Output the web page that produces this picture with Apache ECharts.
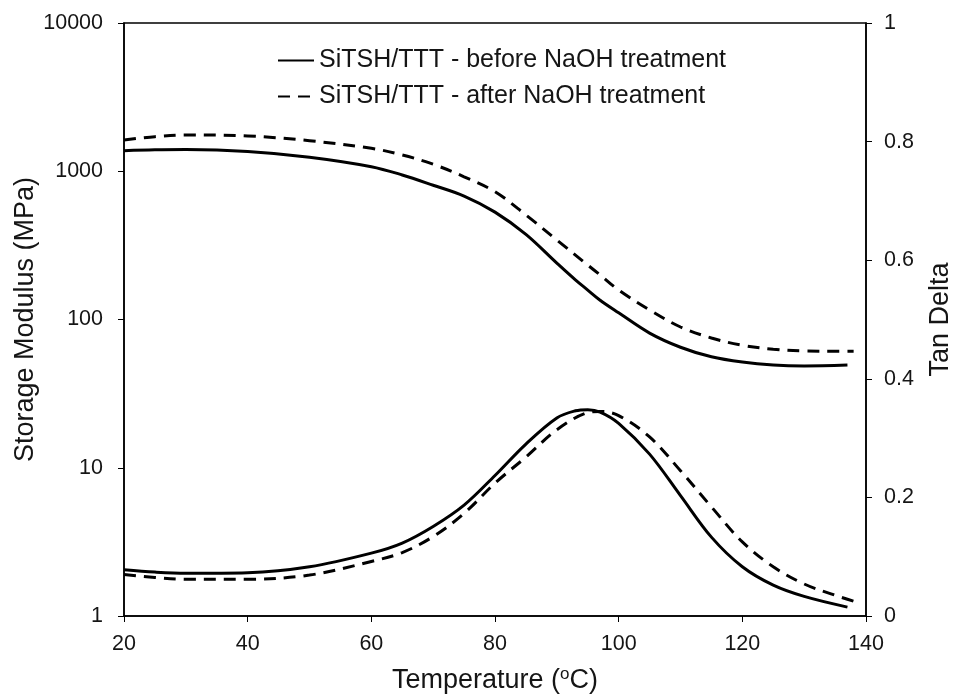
<!DOCTYPE html>
<html>
<head>
<meta charset="utf-8">
<script src="https://cdn.jsdelivr.net/npm/echarts@6/dist/echarts.min.js"></script>
<style>
  html, body { margin: 0; padding: 0; background: #fff; }
  #chart { width: 954px; height: 696px; }
</style>
</head>
<body>
<div id="chart"></div>
<script>
// Temperature (°C) sample points
const tempsBefore = [20, 25, 30, 40, 50, 60, 65, 70, 75, 80, 85, 90, 93, 95, 97, 100, 105, 110, 115, 120, 125, 130, 137];
const tempsAfter  = [20, 25, 30, 40, 50, 60, 65, 70, 75, 80, 85, 90, 95, 97, 100, 105, 110, 115, 120, 125, 130, 135, 138];

// Storage modulus (MPa)
const storageBefore = [1376, 1395, 1400, 1360, 1245, 1074, 944, 805, 680, 530, 375, 240, 185, 158, 135, 111, 81, 65, 56, 51.6, 49.3, 48.6, 49.3];
const storageAfter  = [1625, 1711, 1757, 1730, 1607, 1428, 1288, 1115, 918, 728, 507, 344, 233, 200, 158, 116, 89, 75, 67, 63, 61.3, 61, 61];

// Tan delta
const tanBefore = [0.078, 0.074, 0.072, 0.073, 0.083, 0.106, 0.123, 0.151, 0.187, 0.237, 0.29, 0.334, 0.346, 0.348, 0.344, 0.325, 0.273, 0.203, 0.133, 0.083, 0.052, 0.033, 0.015];
const tanAfter  = [0.070, 0.065, 0.062, 0.062, 0.069, 0.092, 0.107, 0.134, 0.173, 0.224, 0.268, 0.314, 0.343, 0.345, 0.338, 0.302, 0.245, 0.184, 0.125, 0.083, 0.054, 0.035, 0.025];

const xTicks = [20, 40, 60, 80, 100, 120, 140];
const nameBefore = 'SiTSH/TTT - before NaOH treatment';
const nameAfter = 'SiTSH/TTT - after NaOH treatment';

const zip = (xs, ys) => xs.map((x, i) => [x, ys[i]]);

const FONT = '"Liberation Sans", Arial, sans-serif';
const TXT = '#151515';
const solid = { color: '#000', width: 3, type: 'solid' };
const dashed = { color: '#000', width: 3, type: [12, 8] };

const chart = echarts.init(document.getElementById('chart'));
chart.setOption({
  animation: false,
  backgroundColor: '#fff',
  textStyle: { fontFamily: FONT },
  grid: { left: 124, right: 88, top: 23, bottom: 80, outerBoundsMode: 'none', containLabel: false, show: true, borderColor: '#000', borderWidth: 1.5, backgroundColor: 'transparent' },
  legend: {
    orient: 'vertical',
    left: 277, top: 48, padding: 0,
    itemWidth: 36, itemHeight: 22, itemGap: 11,
    data: [nameBefore, nameAfter],
    itemStyle: { color: 'transparent', borderWidth: 0, opacity: 0 },
    textStyle: { fontFamily: FONT, fontSize: 25, lineHeight: 22, color: TXT }
  },
  xAxis: {
    type: 'value', min: xTicks[0], max: xTicks[xTicks.length - 1], interval: 20,
    name: '{a|Temperature (}{s|o}{a|C)}', nameLocation: 'middle', nameGap: 50, nameMoveOverlap: false,
    nameTextStyle: {
      rich: {
        a: { fontFamily: FONT, fontSize: 27, color: TXT },
        s: { fontFamily: FONT, fontSize: 17, color: TXT, verticalAlign: 'top', padding: [0, 0, 12, 0] }
      }
    },
    axisLine: { lineStyle: { color: '#000', width: 1.5 } },
    axisTick: { length: 6, lineStyle: { color: '#000', width: 1 } },
    axisLabel: { fontFamily: FONT, fontSize: 21.5, color: TXT, margin: 17 },
    splitLine: { show: false }
  },
  yAxis: [
    {
      type: 'log', logBase: 10, min: 1, max: 10000,
      name: 'Storage Modulus (MPa)', nameLocation: 'middle', nameGap: 85, nameMoveOverlap: false,
      nameTextStyle: { fontFamily: FONT, fontSize: 27, color: TXT },
      axisLine: { show: true, lineStyle: { color: '#000', width: 1.5 } },
      axisTick: { show: true, length: 6, lineStyle: { color: '#000', width: 1 } },
      minorTick: { show: false },
      axisLabel: { fontFamily: FONT, fontSize: 21.5, color: TXT, margin: 21, formatter: v => String(Math.round(v)) },
      splitLine: { show: false }
    },
    {
      type: 'value', min: 0, max: 1, interval: 0.2, position: 'right',
      name: 'Tan Delta', nameLocation: 'middle', nameGap: 61, nameRotate: 90, nameMoveOverlap: false,
      nameTextStyle: { fontFamily: FONT, fontSize: 27, color: TXT },
      axisLine: { show: true, lineStyle: { color: '#000', width: 1.5 } },
      axisTick: { show: true, length: 6, lineStyle: { color: '#000', width: 1 } },
      axisLabel: { fontFamily: FONT, fontSize: 21.5, color: TXT, margin: 18, formatter: v => String(+v.toFixed(1)) },
      splitLine: { show: false }
    }
  ],
  series: [
    { name: nameBefore, type: 'line', yAxisIndex: 0, data: zip(tempsBefore, storageBefore), smooth: 0.35, showSymbol: false, symbol: 'none', lineStyle: solid, itemStyle: { color: '#000' } },
    { name: nameAfter, type: 'line', yAxisIndex: 0, data: zip(tempsAfter, storageAfter), smooth: 0.35, showSymbol: false, symbol: 'none', lineStyle: dashed, itemStyle: { color: '#000' } },
    { name: nameBefore, type: 'line', yAxisIndex: 1, data: zip(tempsBefore, tanBefore), smooth: 0.35, showSymbol: false, symbol: 'none', lineStyle: solid, itemStyle: { color: '#000' } },
    { name: nameAfter, type: 'line', yAxisIndex: 1, data: zip(tempsAfter, tanAfter), smooth: 0.35, showSymbol: false, symbol: 'none', lineStyle: dashed, itemStyle: { color: '#000' } }
  ]
});
</script>
</body>
</html>
